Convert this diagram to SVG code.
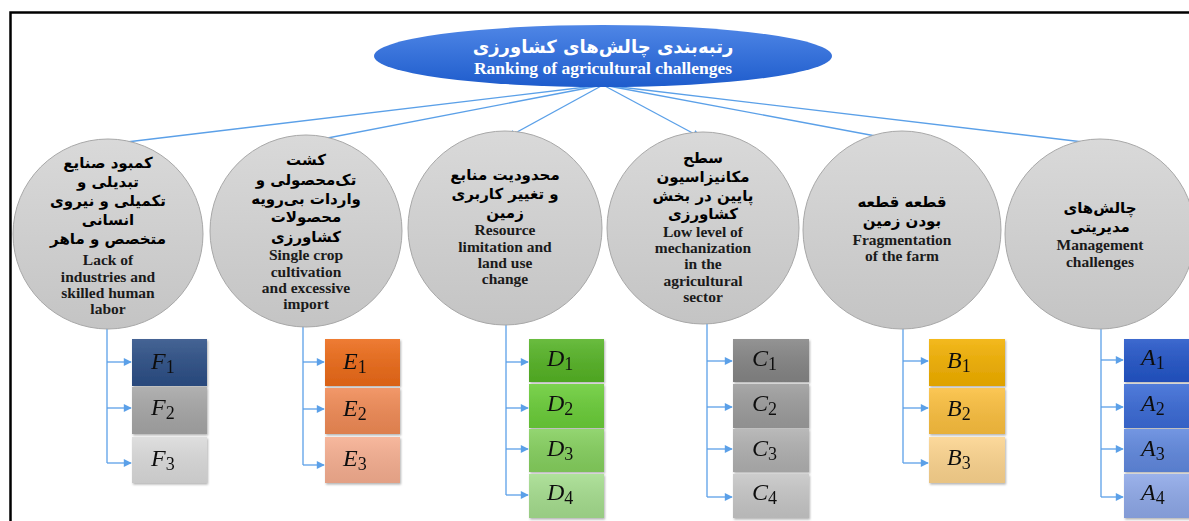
<svg xmlns="http://www.w3.org/2000/svg" width="1189" height="521" viewBox="0 0 1189 521">
<style>
.fa{font-family:"DejaVu Sans","Noto Sans",sans-serif;font-weight:bold;font-size:15px;fill:#000;text-anchor:middle}
.en{font-family:"Liberation Serif","Times New Roman",serif;font-weight:bold;font-size:15.5px;fill:#1a1a1a;text-anchor:middle}
.circ{fill:url(#gCirc);stroke:#a8a8a8;stroke-width:1}
.con{fill:none;stroke:#5ba0e8;stroke-width:1.3}
.lab{font-family:"Liberation Serif","Times New Roman",serif;font-style:italic;font-size:24px;fill:#111}
.sub{font-style:normal;font-size:18px}
.ov{fill:url(#gOv)}
</style>
<defs>
<linearGradient id="gTitle" x1="0" y1="0" x2="0" y2="1"><stop offset="0" stop-color="#4f86e6"/><stop offset="1" stop-color="#1e5ccc"/></linearGradient>
<linearGradient id="gCirc" x1="0" y1="0" x2="0" y2="1"><stop offset="0" stop-color="#d9d9d9"/><stop offset="1" stop-color="#c4c4c4"/></linearGradient>
<linearGradient id="gOv" x1="0" y1="0" x2="0" y2="1"><stop offset="0" stop-color="#fff" stop-opacity="0.12"/><stop offset="1" stop-color="#000" stop-opacity="0.08"/></linearGradient>
<marker id="arr" viewBox="0 0 10 10" refX="9" refY="5" markerWidth="9" markerHeight="8" markerUnits="userSpaceOnUse" orient="auto"><path d="M0,0 L10,5 L0,10 z" fill="#5ba0e8"/></marker>
<filter id="sh" x="-10%" y="-10%" width="130%" height="130%"><feDropShadow dx="1" dy="1.5" stdDeviation="1" flood-color="#000" flood-opacity="0.3"/></filter>
</defs>
<rect width="1189" height="521" fill="#fff"/>
<path d="M10.5,521 V12.5 H1189" fill="none" stroke="#000" stroke-width="2.5"/>

<g id="connectors">
<line class="con" x1="603" y1="85" x2="110" y2="144" marker-end="url(#arr)"/>
<line class="con" x1="603" y1="85" x2="312" y2="141" marker-end="url(#arr)"/>
<line class="con" x1="603" y1="85" x2="508" y2="137" marker-end="url(#arr)"/>
<line class="con" x1="603" y1="85" x2="700" y2="137" marker-end="url(#arr)"/>
<line class="con" x1="603" y1="85" x2="897" y2="140" marker-end="url(#arr)"/>
<line class="con" x1="603" y1="85" x2="1100" y2="144" marker-end="url(#arr)"/>
<path class="con" d="M107,328 V463"/>
<path class="con" d="M107,362 H131" marker-end="url(#arr)"/>
<path class="con" d="M107,408 H131" marker-end="url(#arr)"/>
<path class="con" d="M107,463 H131" marker-end="url(#arr)"/>
<path class="con" d="M303,320 V465"/>
<path class="con" d="M303,362 H324" marker-end="url(#arr)"/>
<path class="con" d="M303,409 H324" marker-end="url(#arr)"/>
<path class="con" d="M303,465 H324" marker-end="url(#arr)"/>
<path class="con" d="M506,320 V495"/>
<path class="con" d="M506,362 H528" marker-end="url(#arr)"/>
<path class="con" d="M506,408 H528" marker-end="url(#arr)"/>
<path class="con" d="M506,449 H528" marker-end="url(#arr)"/>
<path class="con" d="M506,495 H528" marker-end="url(#arr)"/>
<path class="con" d="M707,320 V497"/>
<path class="con" d="M707,361 H732" marker-end="url(#arr)"/>
<path class="con" d="M707,407 H732" marker-end="url(#arr)"/>
<path class="con" d="M707,449 H732" marker-end="url(#arr)"/>
<path class="con" d="M707,497 H732" marker-end="url(#arr)"/>
<path class="con" d="M903,323 V463"/>
<path class="con" d="M903,361 H928" marker-end="url(#arr)"/>
<path class="con" d="M903,408 H928" marker-end="url(#arr)"/>
<path class="con" d="M903,463 H928" marker-end="url(#arr)"/>
<path class="con" d="M1101,327 V497"/>
<path class="con" d="M1101,360 H1123" marker-end="url(#arr)"/>
<path class="con" d="M1101,407 H1123" marker-end="url(#arr)"/>
<path class="con" d="M1101,449 H1123" marker-end="url(#arr)"/>
<path class="con" d="M1101,497 H1123" marker-end="url(#arr)"/>
</g>

<g id="title">
<ellipse cx="603" cy="56" rx="229" ry="31" fill="url(#gTitle)"/>
<text x="603" y="53" font-family="DejaVu Sans,sans-serif" font-weight="bold" font-size="18" fill="#fff" text-anchor="middle">رتبه‌بندی چالش‌های کشاورزی</text>
<text x="603" y="74" font-family="Liberation Serif,serif" font-weight="bold" font-size="17.5" fill="#fff" text-anchor="middle">Ranking of agricultural challenges</text>
</g>

<g id="F">
<circle class="circ" cx="108" cy="234" r="95"/>
<text class="fa" x="108" y="168">کمبود صنایع</text>
<text class="fa" x="108" y="187">تبدیلی و</text>
<text class="fa" x="108" y="206">تکمیلی و نیروی</text>
<text class="fa" x="108" y="225">انسانی</text>
<text class="fa" x="108" y="244">متخصص و ماهر</text>
<text class="en" x="108" y="265">Lack of</text>
<text class="en" x="108" y="282">industries and</text>
<text class="en" x="108" y="298">skilled human</text>
<text class="en" x="108" y="314">labor</text>
</g>
<g id="E">
<circle class="circ" cx="306" cy="231" r="96"/>
<text class="fa" x="306" y="165">کشت</text>
<text class="fa" x="306" y="185">تک‌محصولی و</text>
<text class="fa" x="306" y="204">واردات بی‌رویه</text>
<text class="fa" x="306" y="222">محصولات</text>
<text class="fa" x="306" y="242">کشاورزی</text>
<text class="en" x="306" y="260">Single crop</text>
<text class="en" x="306" y="277">cultivation</text>
<text class="en" x="306" y="293">and excessive</text>
<text class="en" x="306" y="309">import</text>
</g>
<g id="D">
<circle class="circ" cx="505" cy="228" r="97"/>
<text class="fa" x="505" y="180">محدودیت منابع</text>
<text class="fa" x="505" y="199">و تغییر کاربری</text>
<text class="fa" x="505" y="218">زمین</text>
<text class="en" x="505" y="235">Resource</text>
<text class="en" x="505" y="252">limitation and</text>
<text class="en" x="505" y="268">land use</text>
<text class="en" x="505" y="284">change</text>
</g>
<g id="C">
<circle class="circ" cx="703" cy="228" r="96"/>
<text class="fa" x="703" y="163">سطح</text>
<text class="fa" x="703" y="182">مکانیزاسیون</text>
<text class="fa" x="703" y="201">پایین در بخش</text>
<text class="fa" x="703" y="219">کشاورزی</text>
<text class="en" x="703" y="237">Low level of</text>
<text class="en" x="703" y="253">mechanization</text>
<text class="en" x="703" y="269">in the</text>
<text class="en" x="703" y="286">agricultural</text>
<text class="en" x="703" y="302">sector</text>
</g>
<g id="B">
<circle class="circ" cx="902" cy="230" r="99"/>
<text class="fa" x="902" y="207">قطعه قطعه</text>
<text class="fa" x="902" y="226">بودن زمین</text>
<text class="en" x="902" y="245">Fragmentation</text>
<text class="en" x="902" y="261">of the farm</text>
</g>
<g id="A">
<circle class="circ" cx="1100" cy="234" r="95"/>
<text class="fa" x="1100" y="213">چالش‌های</text>
<text class="fa" x="1100" y="232">مدیریتی</text>
<text class="en" x="1100" y="250">Management</text>
<text class="en" x="1100" y="267">challenges</text>
</g>

<g id="F1" filter="url(#sh)"><rect x="132" y="339" width="75" height="47" fill="#2c4f86"/><rect class="ov" x="132" y="339" width="75" height="47"/><text class="lab" x="151" y="369">F<tspan class="sub" dy="4">1</tspan></text></g>
<g id="F2" filter="url(#sh)"><rect x="132" y="387" width="75" height="47" fill="#a6a6a6"/><rect class="ov" x="132" y="387" width="75" height="47"/><text class="lab" x="151" y="415">F<tspan class="sub" dy="4">2</tspan></text></g>
<g id="F3" filter="url(#sh)"><rect x="132" y="437" width="75" height="46" fill="#dadada"/><rect class="ov" x="132" y="437" width="75" height="46"/><text class="lab" x="151" y="466">F<tspan class="sub" dy="4">3</tspan></text></g>

<g id="E1" filter="url(#sh)"><rect x="325" y="339" width="75" height="47" fill="#ec6a18"/><rect class="ov" x="325" y="339" width="75" height="47"/><text class="lab" x="343" y="369">E<tspan class="sub" dy="4">1</tspan></text></g>
<g id="E2" filter="url(#sh)"><rect x="325" y="388" width="75" height="46" fill="#f08a55"/><rect class="ov" x="325" y="388" width="75" height="46"/><text class="lab" x="343" y="416">E<tspan class="sub" dy="4">2</tspan></text></g>
<g id="E3" filter="url(#sh)"><rect x="325" y="437" width="75" height="46" fill="#f6ae90"/><rect class="ov" x="325" y="437" width="75" height="46"/><text class="lab" x="343" y="466">E<tspan class="sub" dy="4">3</tspan></text></g>

<g id="D1" filter="url(#sh)"><rect x="529" y="339" width="75" height="43" fill="#55b325"/><rect class="ov" x="529" y="339" width="75" height="43"/><text class="lab" x="547" y="366">D<tspan class="sub" dy="4">1</tspan></text></g>
<g id="D2" filter="url(#sh)"><rect x="529" y="384" width="75" height="44" fill="#6acd38"/><rect class="ov" x="529" y="384" width="75" height="44"/><text class="lab" x="547" y="411">D<tspan class="sub" dy="4">2</tspan></text></g>
<g id="D3" filter="url(#sh)"><rect x="529" y="429" width="75" height="43" fill="#85d05e"/><rect class="ov" x="529" y="429" width="75" height="43"/><text class="lab" x="547" y="456">D<tspan class="sub" dy="4">3</tspan></text></g>
<g id="D4" filter="url(#sh)"><rect x="529" y="474" width="75" height="44" fill="#a5dd8e"/><rect class="ov" x="529" y="474" width="75" height="44"/><text class="lab" x="547" y="500">D<tspan class="sub" dy="4">4</tspan></text></g>

<g id="C1" filter="url(#sh)"><rect x="733" y="339" width="76" height="43" fill="#858585"/><rect class="ov" x="733" y="339" width="76" height="43"/><text class="lab" x="752" y="366">C<tspan class="sub" dy="4">1</tspan></text></g>
<g id="C2" filter="url(#sh)"><rect x="733" y="384" width="76" height="44" fill="#9c9c9c"/><rect class="ov" x="733" y="384" width="76" height="44"/><text class="lab" x="752" y="411">C<tspan class="sub" dy="4">2</tspan></text></g>
<g id="C3" filter="url(#sh)"><rect x="733" y="429" width="76" height="43" fill="#b0b0b0"/><rect class="ov" x="733" y="429" width="76" height="43"/><text class="lab" x="752" y="456">C<tspan class="sub" dy="4">3</tspan></text></g>
<g id="C4" filter="url(#sh)"><rect x="733" y="474" width="76" height="44" fill="#c6c6c6"/><rect class="ov" x="733" y="474" width="76" height="44"/><text class="lab" x="752" y="500">C<tspan class="sub" dy="4">4</tspan></text></g>

<g id="B1" filter="url(#sh)"><rect x="929" y="339" width="76" height="47" fill="#f2b000"/><rect class="ov" x="929" y="339" width="76" height="47"/><text class="lab" x="947" y="368">B<tspan class="sub" dy="4">1</tspan></text></g>
<g id="B2" filter="url(#sh)"><rect x="929" y="388" width="76" height="46" fill="#fbbf3e"/><rect class="ov" x="929" y="388" width="76" height="46"/><text class="lab" x="947" y="416">B<tspan class="sub" dy="4">2</tspan></text></g>
<g id="B3" filter="url(#sh)"><rect x="929" y="437" width="76" height="46" fill="#fcd48e"/><rect class="ov" x="929" y="437" width="76" height="46"/><text class="lab" x="947" y="465">B<tspan class="sub" dy="4">3</tspan></text></g>

<g id="A1" filter="url(#sh)"><rect x="1124" y="339" width="76" height="43" fill="#2355c8"/><rect class="ov" x="1124" y="339" width="76" height="43"/><text class="lab" x="1141" y="365">A<tspan class="sub" dy="4">1</tspan></text></g>
<g id="A2" filter="url(#sh)"><rect x="1124" y="384" width="76" height="44" fill="#3a6ad6"/><rect class="ov" x="1124" y="384" width="76" height="44"/><text class="lab" x="1141" y="411">A<tspan class="sub" dy="4">2</tspan></text></g>
<g id="A3" filter="url(#sh)"><rect x="1124" y="429" width="76" height="43" fill="#6088de"/><rect class="ov" x="1124" y="429" width="76" height="43"/><text class="lab" x="1141" y="456">A<tspan class="sub" dy="4">3</tspan></text></g>
<g id="A4" filter="url(#sh)"><rect x="1124" y="474" width="76" height="44" fill="#8ea8e8"/><rect class="ov" x="1124" y="474" width="76" height="44"/><text class="lab" x="1141" y="500">A<tspan class="sub" dy="4">4</tspan></text></g>
</svg>
